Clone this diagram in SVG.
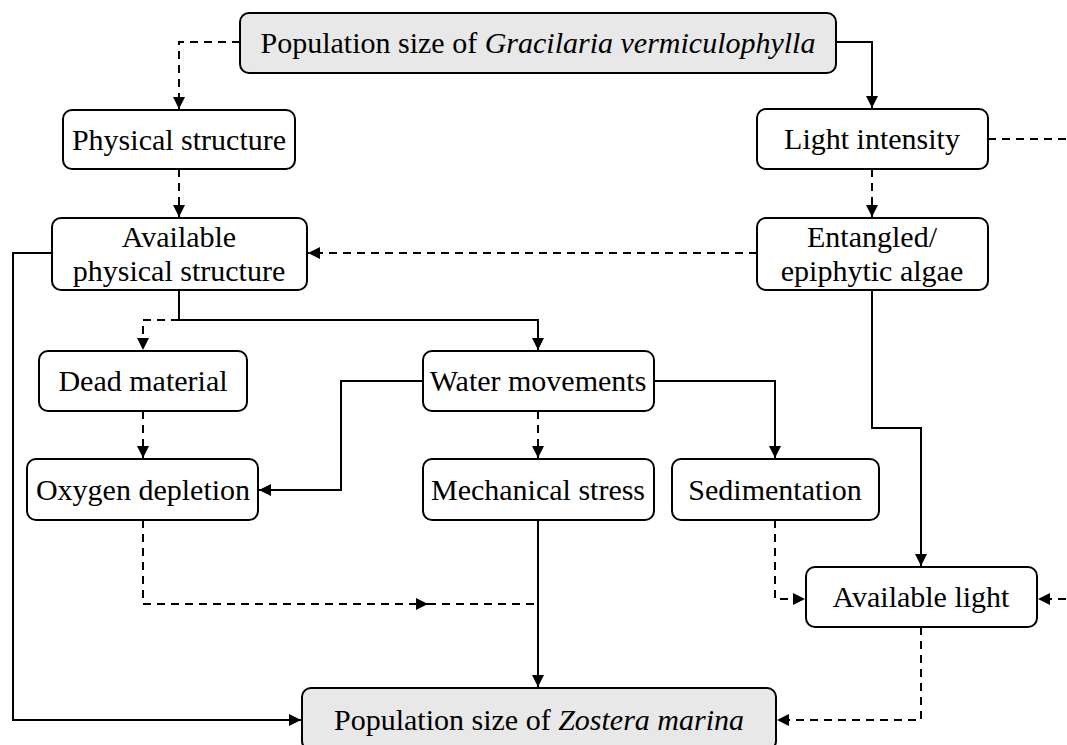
<svg xmlns="http://www.w3.org/2000/svg" width="1067" height="745" viewBox="0 0 1067 745">
<style>
.box{fill:#fff;stroke:#000;stroke-width:2}
.pop{fill:#e8e8e8;stroke:#000;stroke-width:2}
text{font-family:"Liberation Serif","Times New Roman",serif;font-size:30px;fill:#000;text-anchor:middle}
.it{font-style:italic}
.s{fill:none;stroke:#000;stroke-width:2;marker-end:url(#ah)}
.d{fill:none;stroke:#000;stroke-width:2;stroke-dasharray:8 6;marker-end:url(#ah)}
.dn{fill:none;stroke:#000;stroke-width:2;stroke-dasharray:8 6}
</style>
<defs>
<marker id="ah" markerUnits="userSpaceOnUse" markerWidth="13" markerHeight="12" refX="12" refY="6" orient="auto">
<path d="M0,0 L12,6 L0,12 z" fill="#000"/>
</marker>
</defs>
<g id="connectors">
<path class="d" d="M240,42 H179 V109"/>
<path class="s" d="M836,42 H872 V108"/>
<path class="d" d="M179,169 V217"/>
<path class="d" d="M872,169 V217"/>
<path class="dn" d="M988,139 H1080"/>
<path class="d" d="M1080,599 H1038"/>
<path class="d" d="M757,253 H308"/>
<path class="s" d="M872,290 V428 H921 V566"/>
<path class="s" d="M179,290 V320 H538 V350"/>
<path class="d" d="M179,320 H143 V350"/>
<path class="d" d="M143,411 V458"/>
<path class="s" d="M423,381 H341 V490 H259"/>
<path class="d" d="M538,411 V458"/>
<path class="s" d="M654,381 H775 V458"/>
<path class="d" d="M775,520 V599 H805"/>
<path class="s" d="M538,520 V687"/>
<path class="d" d="M143,520 V604 H428"/>
<path class="dn" d="M428,604 H538"/>
<path class="s" d="M52,253 H13 V720 H301"/>
<path class="d" d="M921,627 V720 H777"/>
</g>
<g id="n-gracilaria"><rect class="pop" x="240" y="13" width="596" height="60" rx="9"/><text x="538" y="53">Population size of <tspan class="it">Gracilaria vermiculophylla</tspan></text></g>
<g id="n-physical"><rect class="box" x="63" y="110" width="232" height="59" rx="9"/><text x="179" y="150">Physical structure</text></g>
<g id="n-light"><rect class="box" x="757" y="109" width="231" height="60" rx="9"/><text x="872" y="149">Light intensity</text></g>
<g id="n-avphys"><rect class="box" x="52" y="218" width="255" height="72" rx="9"/><text x="179" y="247">Available</text><text x="179" y="281">physical structure</text></g>
<g id="n-entangled"><rect class="box" x="757" y="218" width="231" height="72" rx="9"/><text x="872" y="247">Entangled/</text><text x="872" y="281">epiphytic algae</text></g>
<g id="n-dead"><rect class="box" x="39" y="351" width="208" height="60" rx="9"/><text x="143" y="391">Dead material</text></g>
<g id="n-water"><rect class="box" x="423" y="351" width="231" height="60" rx="9"/><text x="538" y="391">Water movements</text></g>
<g id="n-oxygen"><rect class="box" x="27" y="459" width="231" height="61" rx="9"/><text x="143" y="500">Oxygen depletion</text></g>
<g id="n-mech"><rect class="box" x="423" y="459" width="231" height="61" rx="9"/><text x="538" y="500">Mechanical stress</text></g>
<g id="n-sed"><rect class="box" x="672" y="459" width="207" height="61" rx="9"/><text x="775" y="500">Sedimentation</text></g>
<g id="n-avlight"><rect class="box" x="806" y="567" width="231" height="60" rx="9"/><text x="921" y="607">Available light</text></g>
<g id="n-zostera"><rect class="pop" x="302" y="688" width="474" height="62" rx="9"/><text x="539" y="730">Population size of <tspan class="it">Zostera marina</tspan></text></g>
</svg>
